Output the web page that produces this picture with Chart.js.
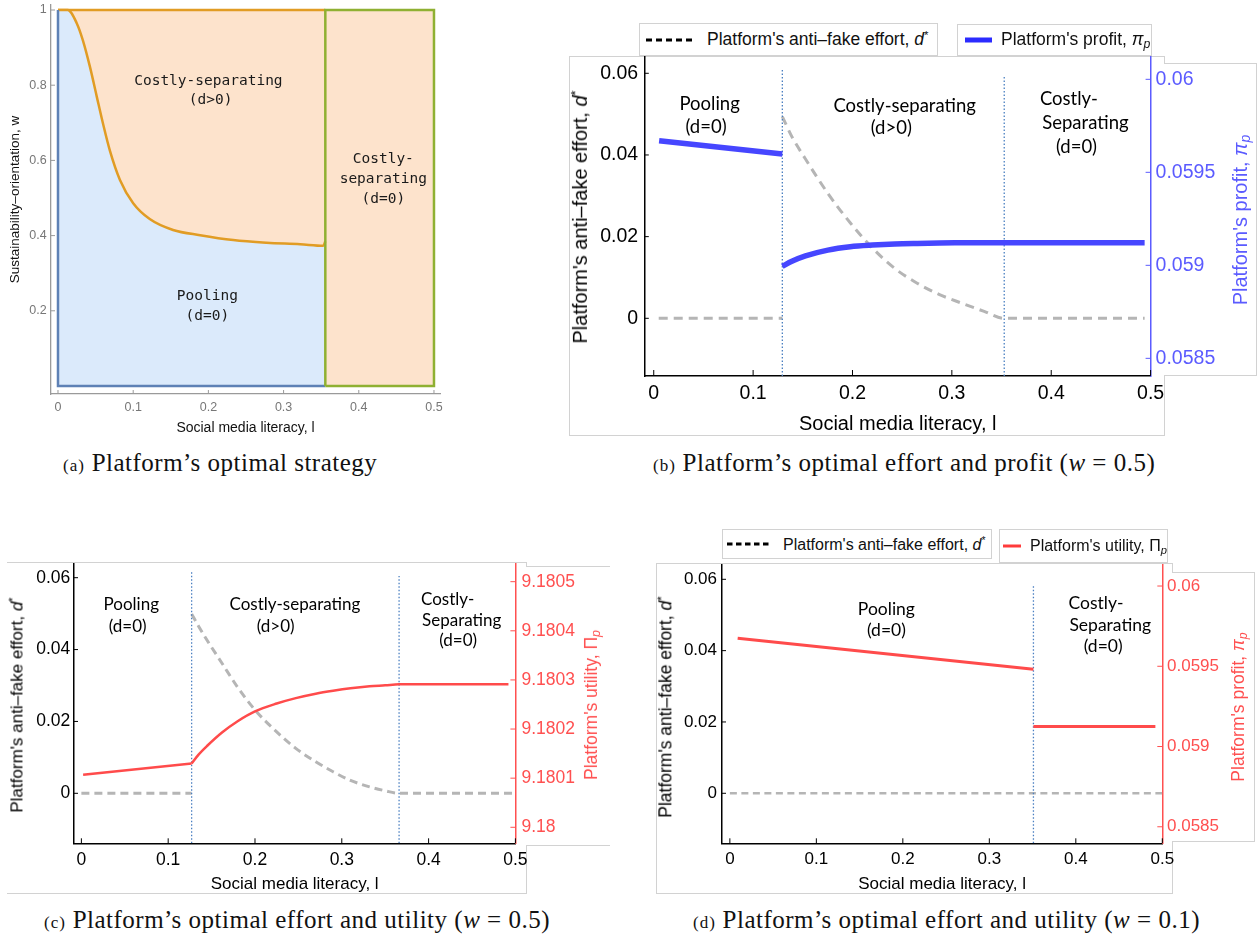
<!DOCTYPE html>
<html>
<head>
<meta charset="utf-8">
<script src="https://cdn.jsdelivr.net/npm/chart.js@4.4.1/dist/chart.umd.min.js"></script>
<style>
  body { margin: 0; width: 1258px; height: 939px; position: relative; overflow: hidden; background: #fff;
         font-family: "Liberation Sans", Arial, sans-serif; }
  canvas { position: absolute; z-index: 1; }
  .frame { position: absolute; border: 1px solid #d2d2d2; background: #fff; box-sizing: border-box; z-index: 0; }
  .t { position: absolute; white-space: nowrap; transform: translate(-50%, -50%); z-index: 2; }
  .rot { transform: translate(-50%, -50%) rotate(-90deg); }
  .t sup { font-size: 0.65em; vertical-align: 0.55em; }
  .t sub, .leg sub { font-size: 0.7em; vertical-align: -0.25em; }
  .leg sup { font-size: 0.65em; vertical-align: 0.55em; }
  .cap { position: absolute; white-space: nowrap; transform: translateY(-50%); z-index: 2;
         font-family: "Liberation Serif", "Times New Roman", serif; font-size: 25px; letter-spacing: 0.5px; color: #111; }
  .cap small { font-size: 17px; letter-spacing: 1px; }
  .leg { position: absolute; display: flex; align-items: center; white-space: nowrap; background: #fff;
         border: 1px solid #d2d2d2; box-sizing: border-box; z-index: 2; color: #111; }
</style>
</head>
<body>

<div class="frame" style="left:569px;top:56px;width:596px;height:380px;"></div>
<div class="frame" style="left:1164px;top:63px;width:93px;height:313px;border-left:none;"></div>
<div class="frame" style="left:7px;top:562px;width:520px;height:332px;border-left:none;"></div>
<div class="frame" style="left:526px;top:566px;width:84px;height:280px;border-left:none;border-right:none;"></div>
<div class="frame" style="left:656px;top:563px;width:517px;height:331px;"></div>
<div class="frame" style="left:1172px;top:572px;width:83px;height:270px;border-left:none;"></div>

<canvas id="chartA" width="470" height="460" style="left:0px;top:-15px;"></canvas>
<canvas id="chartB" width="688" height="403" style="left:570px;top:37px;"></canvas>
<canvas id="chartC" width="600" height="356" style="left:0px;top:544px;"></canvas>
<canvas id="chartD" width="618" height="355" style="left:640px;top:545px;"></canvas>

<!-- legends -->
<div class="leg" style="left:639px;top:23px;width:299px;height:33px;font-size:17.5px;">
  <svg width="48" height="6" style="margin-left:6px;margin-right:13px;"><line x1="0" y1="3" x2="48" y2="3" stroke="#000" stroke-width="3" stroke-dasharray="6 4"/></svg>
  <span>Platform's anti–fake effort, <i>d</i><sup>*</sup></span>
</div>
<div class="leg" style="left:957px;top:24px;width:195px;height:32px;font-size:17.5px;">
  <svg width="27" height="6" style="margin-left:7px;margin-right:9px;"><line x1="0" y1="3" x2="27" y2="3" stroke="#2b2bff" stroke-width="5"/></svg>
  <span>Platform's profit, <i>π<sub>p</sub></i></span>
</div>
<div class="leg" style="left:722px;top:529px;width:270px;height:30px;font-size:16px;">
  <svg width="44" height="6" style="margin-left:4px;margin-right:12px;"><line x1="0" y1="3" x2="44" y2="3" stroke="#000" stroke-width="3" stroke-dasharray="5.5 3.5"/></svg>
  <span>Platform's anti–fake effort, <i>d</i><sup>*</sup></span>
</div>
<div class="leg" style="left:999px;top:529px;width:169px;height:34px;font-size:16px;">
  <svg width="22" height="6" style="margin-left:3px;margin-right:9px;"><line x1="0" y1="3" x2="22" y2="3" stroke="#ff3b3b" stroke-width="3"/></svg>
  <span>Platform's utility, Π<sub><i>p</i></sub></span>
</div>

<!-- axis titles with rich text -->
<div class="t rot" style="left:580px;top:217px;font-size:20px;color:#000;">Platform's anti–fake effort, <i>d</i><sup>*</sup></div>
<div class="t rot" style="left:1241px;top:220px;font-size:20px;color:#5b5bff;">Platform's profit, <i>π<sub>p</sub></i></div>
<div class="t rot" style="left:17px;top:705px;font-size:17px;color:#000;">Platform's anti–fake effort, <i>d</i><sup>*</sup></div>
<div class="t rot" style="left:592px;top:705px;font-size:17.5px;color:#ff5050;">Platform's utility, Π<sub><i>p</i></sub></div>
<div class="t rot" style="left:666px;top:707px;font-size:17.5px;color:#000;">Platform's anti–fake effort, <i>d</i><sup>*</sup></div>
<div class="t rot" style="left:1239px;top:707px;font-size:17.5px;color:#ff5050;">Platform's profit, <i>π<sub>p</sub></i></div>

<!-- captions -->
<div class="cap" style="left:63px;top:463px;"><small>(a)</small> Platform’s optimal strategy</div>
<div class="cap" style="left:653px;top:463px;"><small>(b)</small> Platform’s optimal effort and profit (<i>w</i> = 0.5)</div>
<div class="cap" style="left:44px;top:920px;"><small>(c)</small> Platform’s optimal effort and utility (<i>w</i> = 0.5)</div>
<div class="cap" style="left:693px;top:920px;"><small>(d)</small> Platform’s optimal effort and utility (<i>w</i> = 0.1)</div>

<script>
// ---------- (a) strategy regions ----------
const aBoundL = [0, 0.013, 0.0249, 0.033, 0.0426, 0.0514, 0.0603, 0.069, 0.0824, 0.1, 0.122, 0.153, 0.189, 0.233, 0.2775, 0.322, 0.3528, 0.3555];
const aBoundW = [1, 1, 0.965, 0.92, 0.848, 0.771, 0.694, 0.626, 0.548, 0.486, 0.444, 0.415, 0.401, 0.388, 0.381, 0.377, 0.373, 0.385];
const aSwitchL = 0.3555;
const aXTicks = [0, 0.1, 0.2, 0.3, 0.4, 0.5];
const aYTicks = [0.2, 0.4, 0.6, 0.8, 1];

// ---------- (b) effort and profit, w = 0.5 ----------
const bPoolL = [0.0054, 0.1294];
const bPoolPi = [0.05967, 0.059598];
const bZeroL = [0.005, 0.1294];
const bSepL = [0.1294, 0.139, 0.1527, 0.1752, 0.1977, 0.2201, 0.2426, 0.2651, 0.2876, 0.31, 0.3325, 0.3527, 0.494];
const bSepD = [0.0494, 0.0445, 0.039, 0.0306, 0.0234, 0.0172, 0.0122, 0.0086, 0.0058, 0.0037, 0.0017, 0, 0];
const bSepPi = [0.058995, 0.059022, 0.059051, 0.059082, 0.0591, 0.059109, 0.059115, 0.059118, 0.05912, 0.059121, 0.059122, 0.059122, 0.059122];
const bSwitchL = [0.1294, 0.3527];
const bSwitchTop = [0.0613, 0.0591];
const bXTicks = [0, 0.1, 0.2, 0.3, 0.4, 0.5];
const bDTicks = [0, 0.02, 0.04, 0.06];
const bPiTicks = [0.0585, 0.059, 0.0595, 0.06];

// ---------- (c) effort and utility, w = 0.5 ----------
const cPoolL = [0.002, 0.127];
const cPoolU = [9.180107, 9.18013];
const cZeroL = [0, 0.127];
const cSepL = [0.127, 0.135, 0.145, 0.162, 0.18, 0.2, 0.225, 0.247, 0.27, 0.29, 0.31, 0.332, 0.35, 0.366, 0.492];
const cSepU = [9.18013, 9.180148, 9.180166, 9.180193, 9.180216, 9.180236, 9.180252, 9.180263, 9.180272, 9.180278, 9.180283, 9.180287, 9.180289, 9.180291, 9.180291];
const cDL = [0.127, 0.135, 0.145, 0.162, 0.18, 0.2, 0.225, 0.247, 0.27, 0.29, 0.31, 0.332, 0.35, 0.366, 0.5];
const cDVal = [0.0499, 0.0465, 0.0425, 0.0362, 0.0295, 0.0232, 0.0171, 0.0125, 0.0088, 0.006, 0.0036, 0.0018, 0.0007, 0, 0];
const cSwitchL = [0.127, 0.366];
const cSwitchTop = [0.0616, 0.0605];
const cUTicks = [9.18, 9.1801, 9.1802, 9.1803, 9.1804, 9.1805];

// ---------- (d) effort and utility, w = 0.1 ----------
const dPoolL = [0.009, 0.351];
const dPoolPi = [0.059674, 0.059481];
const dSepL = [0.351, 0.492];
const dSepPi = [0.059125, 0.059125];
const dZeroL = [0, 0.5];
const dSwitchL = [0.351];
const dSwitchTop = [0.0581];

const pts = (xs, ys) => xs.map((x, i) => ({ x: x, y: ys[i] }));
const flat = (xs, v) => xs.map(x => ({ x: x, y: v }));

const GRAY = '#b5b5b5';
const DOT = '#4a7fc1';
const BLUE = '#4646ff';
const RED = '#ff4b4b';

// inward tick marks + region annotations
const decor = {
  id: 'decor',
  afterDatasetsDraw(chart, args, opts) {
    const ctx = chart.ctx;
    const area = chart.chartArea;
    ctx.save();
    (opts.marks || []).forEach(m => {
      const s = chart.scales[m.id];
      ctx.strokeStyle = m.color;
      ctx.lineWidth = m.width || 1;
      s.ticks.forEach(tk => {
        const p = s.getPixelForValue(tk.value);
        ctx.beginPath();
        if (m.side === 'left') { ctx.moveTo(area.left, p); ctx.lineTo(area.left + m.len, p); }
        else if (m.side === 'right') { ctx.moveTo(area.right, p); ctx.lineTo(area.right - m.len, p); }
        else { ctx.moveTo(p, area.bottom); ctx.lineTo(p, area.bottom - m.len); }
        ctx.stroke();
      });
    });
    ctx.font = opts.font;
    ctx.fillStyle = opts.color || '#000';
    ctx.textAlign = 'center';
    ctx.textBaseline = 'middle';
    (opts.labels || []).forEach(l => {
      ctx.fillText(l.text, chart.scales.x.getPixelForValue(l.x), chart.scales.y.getPixelForValue(l.y));
    });
    ctx.restore();
  }
};

function xAxis(min, max, ticks, h, font, color, pad, title) {
  return {
    type: 'linear', position: 'bottom', min: min, max: max,
    afterBuildTicks: s => { s.ticks = ticks.map(v => ({ value: v })); },
    afterFit: s => { s.height = h; },
    grid: { display: false, drawTicks: false },
    border: { display: true, color: color.line, width: color.lw },
    ticks: { color: color.text, font: font, padding: pad, maxRotation: 0, callback: v => String(v) },
    title: title
  };
}

function yAxis(pos, min, max, ticks, w, font, color, pad, title) {
  return {
    type: 'linear', position: pos, min: min, max: max,
    afterBuildTicks: s => { s.ticks = ticks.map(v => ({ value: v })); },
    afterFit: s => { s.width = w; },
    grid: { display: false, drawTicks: false },
    border: { display: true, color: color.line, width: color.lw },
    ticks: { color: color.text, font: font, padding: pad, callback: v => String(v) },
    title: title || { display: false }
  };
}

function line(data, o) {
  return Object.assign({ data: data, pointRadius: 0, borderWidth: 2, fill: false, tension: 0, yAxisID: 'y' }, o);
}

function base(padRight, scales, decorOpts) {
  return {
    responsive: false,
    animation: false,
    events: [],
    layout: { padding: { left: 0, top: 20, right: padRight, bottom: 0 } },
    scales: scales,
    plugins: { legend: { display: false }, tooltip: { enabled: false }, decor: decorOpts }
  };
}

// ---------- chart (a) ----------
const aGray = { line: '#9a9a9a', lw: 1.3, text: '#777' };
new Chart(document.getElementById('chartA'), {
  type: 'line',
  data: {
    datasets: [
      line([{ x: 0, y: 1 }, { x: aSwitchL, y: 1 }], { order: 6, fill: 'origin', backgroundColor: '#fde3cc', borderColor: '#e19c24', borderWidth: 2.5 }),
      line([{ x: aSwitchL, y: 1 }, { x: 0.5, y: 1 }], { order: 5, fill: 'origin', backgroundColor: '#fde3cc', borderWidth: 0 }),
      line(pts(aBoundL, aBoundW), { order: 4, fill: 'origin', backgroundColor: '#dbeafb', borderColor: '#e19c24', borderWidth: 2.5, cubicInterpolationMode: 'monotone' }),
      line([{ x: 0, y: 1 }, { x: 0, y: 0 }, { x: aSwitchL, y: 0 }], { order: 3, borderColor: '#5e81b5', borderWidth: 2.5 }),
      line([{ x: aSwitchL, y: 0 }, { x: aSwitchL, y: 1 }, { x: 0.5, y: 1 }, { x: 0.5, y: 0 }, { x: aSwitchL, y: 0 }], { order: 2, borderColor: '#8fb032', borderWidth: 2.5 })
    ]
  },
  options: base(30, {
    x: xAxis(-0.0093, 0.508, aXTicks, 51, { family: 'Liberation Sans', size: 12.5 }, aGray, 6,
      { display: true, text: 'Social media literacy, l', color: '#111', font: { family: 'Liberation Sans', size: 14 }, padding: { top: 0, bottom: 8.6 } }),
    y: yAxis('left', -0.0213, 1.0133, aYTicks, 51, { family: 'Liberation Sans', size: 12.5 }, aGray, 4.3,
      { display: true, text: 'Sustainability–orientation, w', color: '#111', font: { family: 'Liberation Sans', size: 13.5 }, padding: { top: 7, bottom: 0 } })
  }, {
    marks: [{ id: 'x', side: 'bottom', len: 4, color: '#9a9a9a' }, { id: 'y', side: 'left', len: 4, color: '#9a9a9a' }],
    font: '14.5px "DejaVu Sans Mono"', color: '#1a1a1a',
    labels: [
      { x: 0.2, y: 0.811, text: 'Costly-separating' }, { x: 0.203, y: 0.759, text: '(d>0)' },
      { x: 0.4326, y: 0.603, text: 'Costly-' }, { x: 0.4326, y: 0.55, text: 'separating' }, { x: 0.4326, y: 0.497, text: '(d=0)' },
      { x: 0.1986, y: 0.2376, text: 'Pooling' }, { x: 0.1986, y: 0.186, text: '(d=0)' }
    ]
  }),
  plugins: [decor]
});

// ---------- chart (b) ----------
const blk = { line: '#000', lw: 1.5, text: '#000' };
const bFont = { family: 'Liberation Sans', size: 19.5 };
new Chart(document.getElementById('chartB'), {
  type: 'line',
  data: {
    datasets: [
      line(pts(bPoolL, bPoolPi), { order: 1, yAxisID: 'y2', borderColor: BLUE, borderWidth: 5.5 }),
      line(pts(bSepL, bSepPi), { order: 1, yAxisID: 'y2', borderColor: BLUE, borderWidth: 5.5, cubicInterpolationMode: 'monotone' }),
      line(flat(bZeroL, 0), { order: 3, borderColor: GRAY, borderWidth: 3, borderDash: [9, 6] }),
      line(pts(bSepL, bSepD), { order: 3, borderColor: GRAY, borderWidth: 3, borderDash: [9, 6], cubicInterpolationMode: 'monotone' }),
      line([{ x: bSwitchL[0], y: -0.01413 }, { x: bSwitchL[0], y: bSwitchTop[0] }], { order: 2, borderColor: DOT, borderWidth: 1.3, borderDash: [1.5, 2] }),
      line([{ x: bSwitchL[1], y: -0.01413 }, { x: bSwitchL[1], y: bSwitchTop[1] }], { order: 2, borderColor: DOT, borderWidth: 1.3, borderDash: [1.5, 2] })
    ]
  },
  options: base(38, {
    x: xAxis(-0.009, 0.5, bXTicks, 64, bFont, blk, 6,
      { display: true, text: 'Social media literacy, l', color: '#000', font: { family: 'Liberation Sans', size: 20 }, padding: { top: 0, bottom: 4 } }),
    y: yAxis('left', -0.01413, 0.06399, bDTicks, 74.8, bFont, blk, 6.7),
    y2: yAxis('right', 0.058405, 0.06012, bPiTicks, 69.4, bFont, { line: '#5b5bff', lw: 1.5, text: '#5b5bff' }, 5)
  }, {
    marks: [{ id: 'x', side: 'bottom', len: 6, color: '#000' }, { id: 'y', side: 'left', len: 4, color: '#000' },
            { id: 'y2', side: 'right', len: 5, color: '#5b5bff' }],
    font: '18.5px Lato', color: '#000',
    labels: [
      { x: 0.0562, y: 0.0525, text: 'Pooling' }, { x: 0.0526, y: 0.0468, text: '(d=0)' },
      { x: 0.2525, y: 0.0521, text: 'Costly-separating' }, { x: 0.239, y: 0.0465, text: '(d>0)' },
      { x: 0.4178, y: 0.0537, text: 'Costly-' }, { x: 0.4344, y: 0.0478, text: 'Separating' }, { x: 0.4254, y: 0.042, text: '(d=0)' }
    ]
  }),
  plugins: [decor]
});

// ---------- chart (c) ----------
const cFont = { family: 'Liberation Sans', size: 17.5 };
new Chart(document.getElementById('chartC'), {
  type: 'line',
  data: {
    datasets: [
      line(pts(cPoolL, cPoolU), { order: 1, yAxisID: 'y2', borderColor: RED, borderWidth: 2.5 }),
      line(pts(cSepL, cSepU), { order: 1, yAxisID: 'y2', borderColor: RED, borderWidth: 2.5, cubicInterpolationMode: 'monotone' }),
      line(flat(cZeroL, 0), { order: 3, borderColor: GRAY, borderWidth: 3, borderDash: [8, 5] }),
      line(pts(cDL, cDVal), { order: 3, borderColor: GRAY, borderWidth: 3, borderDash: [8, 5], cubicInterpolationMode: 'monotone' }),
      line([{ x: cSwitchL[0], y: -0.01391 }, { x: cSwitchL[0], y: cSwitchTop[0] }], { order: 2, borderColor: DOT, borderWidth: 1.3, borderDash: [1.5, 2] }),
      line([{ x: cSwitchL[1], y: -0.01391 }, { x: cSwitchL[1], y: cSwitchTop[1] }], { order: 2, borderColor: DOT, borderWidth: 1.3, borderDash: [1.5, 2] })
    ]
  },
  options: base(22.6, {
    x: xAxis(-0.0085, 0.5, bXTicks, 56.7, cFont, blk, 6,
      { display: true, text: 'Social media literacy, l', color: '#000', font: { family: 'Liberation Sans', size: 17 }, padding: { top: 0, bottom: 5.8 } }),
    y: yAxis('left', -0.01391, 0.06381, bDTicks, 74, cFont, blk, 3.7),
    y2: yAxis('right', 9.1799674, 9.180536, cUTicks, 62, cFont, { line: '#ff5050', lw: 1.5, text: '#ff5050' }, 6)
  }, {
    marks: [{ id: 'x', side: 'bottom', len: 5, color: '#000' }, { id: 'y', side: 'left', len: 4, color: '#000' },
            { id: 'y2', side: 'right', len: 5, color: '#ff5050' }],
    font: '17px Lato', color: '#000',
    labels: [
      { x: 0.0575, y: 0.0524, text: 'Pooling' }, { x: 0.0533, y: 0.0463, text: '(d=0)' },
      { x: 0.246, y: 0.0524, text: 'Costly-separating' }, { x: 0.2238, y: 0.0463, text: '(d>0)' },
      { x: 0.422, y: 0.054, text: 'Costly-' }, { x: 0.4382, y: 0.0482, text: 'Separating' }, { x: 0.434, y: 0.0425, text: '(d=0)' }
    ]
  }),
  plugins: [decor]
});

// ---------- chart (d) ----------
const dFont = { family: 'Liberation Sans', size: 17 };
new Chart(document.getElementById('chartD'), {
  type: 'line',
  data: {
    datasets: [
      line(pts(dPoolL, dPoolPi), { order: 1, yAxisID: 'y2', borderColor: RED, borderWidth: 3 }),
      line(pts(dSepL, dSepPi), { order: 1, yAxisID: 'y2', borderColor: RED, borderWidth: 3 }),
      line(flat(dZeroL, 0), { order: 3, borderColor: GRAY, borderWidth: 2.5, borderDash: [7, 4.5] }),
      line([{ x: dSwitchL[0], y: -0.01402 }, { x: dSwitchL[0], y: dSwitchTop[0] }], { order: 2, borderColor: DOT, borderWidth: 1.3, borderDash: [1.5, 2] })
    ]
  },
  options: base(33.7, {
    x: xAxis(-0.0091, 0.5, bXTicks, 56.7, dFont, blk, 6,
      { display: true, text: 'Social media literacy, l', color: '#000', font: { family: 'Liberation Sans', size: 17 }, padding: { top: 0, bottom: 5.5 } }),
    y: yAxis('left', -0.01402, 0.06401, bDTicks, 82, dFont, blk, 5),
    y2: yAxis('right', 0.058397, 0.060131, bPiTicks, 62, dFont, { line: '#ff5050', lw: 1.5, text: '#ff5050' }, 4.7)
  }, {
    marks: [{ id: 'x', side: 'bottom', len: 5, color: '#000' }, { id: 'y', side: 'left', len: 4, color: '#000' },
            { id: 'y2', side: 'right', len: 5, color: '#ff5050' }],
    font: '17.5px Lato', color: '#000',
    labels: [
      { x: 0.181, y: 0.0516, text: 'Pooling' }, { x: 0.181, y: 0.0458, text: '(d=0)' },
      { x: 0.4234, y: 0.0533, text: 'Costly-' }, { x: 0.4398, y: 0.0471, text: 'Separating' }, { x: 0.4316, y: 0.0411, text: '(d=0)' }
    ]
  }),
  plugins: [decor]
});
</script>
</body>
</html>
